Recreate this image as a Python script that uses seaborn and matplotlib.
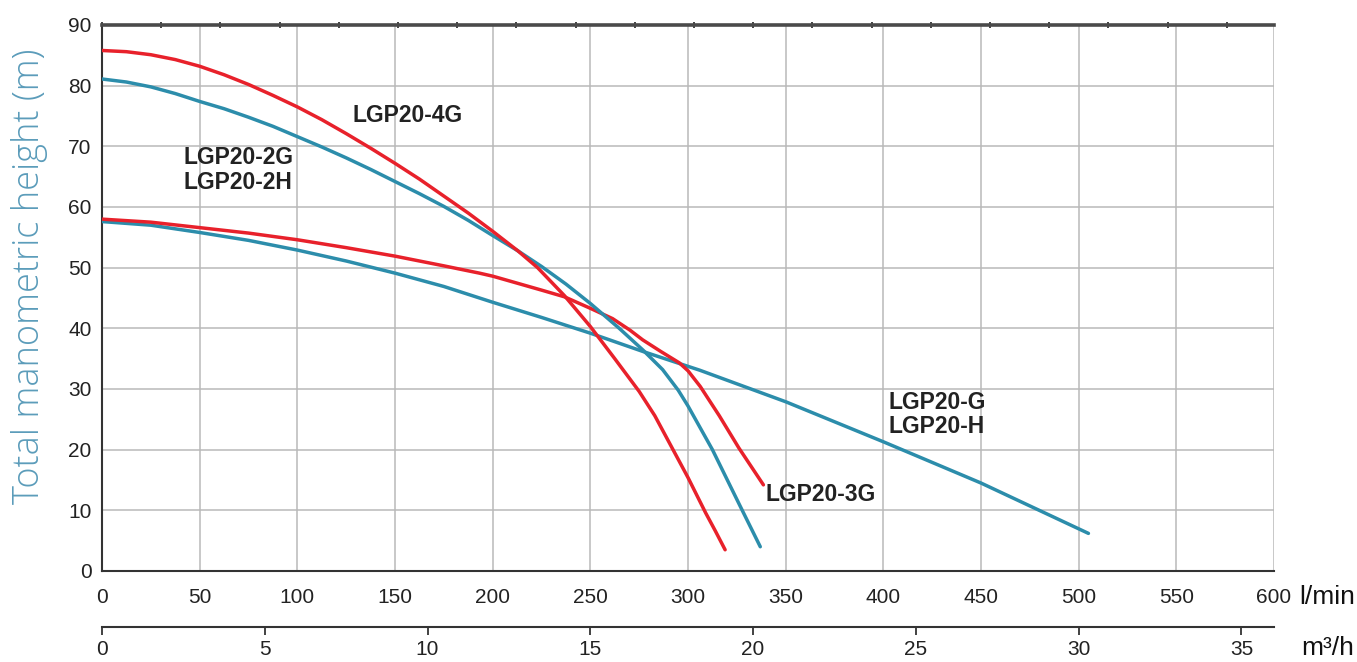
import numpy as np
import pandas as pd
import matplotlib
matplotlib.use("Agg")
import matplotlib.pyplot as plt
import seaborn as sns

# ---- data (flow l/min, head m) ----
q_4g = [0, 12.5, 25, 37.5, 50, 62.5, 75, 87.5, 100, 112.5, 125, 137.5, 150, 162.5, 175,
        187.5, 200, 212.8, 223, 236.7, 250, 262.5, 275, 283, 291, 300, 309, 314, 319]
h_4g = [85.8, 85.6, 85.1, 84.3, 83.2, 81.8, 80.2, 78.4, 76.5, 74.4, 72.1, 69.7, 67.2, 64.6, 61.8,
        59.0, 56.0, 52.8, 50.0, 45.4, 40.3, 35.0, 29.6, 25.6, 20.8, 15.4, 9.6, 6.6, 3.5]

q_2g = [0, 12.5, 25, 37.5, 50, 62.5, 75, 87.5, 100, 112.5, 125, 137.5, 150, 162.5, 175,
        187.5, 200, 212.8, 225, 237.5, 250, 264.8, 277, 287, 295, 300, 312.5, 327, 337]
h_2g = [81.1, 80.6, 79.8, 78.7, 77.4, 76.2, 74.8, 73.3, 71.6, 69.9, 68.1, 66.2, 64.2, 62.2, 60.1,
        57.8, 55.3, 52.8, 50.2, 47.3, 44.1, 40.0, 36.4, 33.2, 29.8, 27.2, 20.0, 10.5, 4.0]

q_3g = [0, 25, 50, 75, 100, 125, 150, 175, 193.2, 200, 225, 236.7, 250, 261.4, 270.3,
        276.8, 286, 295.6, 300, 306.3, 316, 326, 338.6]
h_3g = [58.0, 57.5, 56.6, 55.7, 54.6, 53.3, 51.9, 50.3, 49.1, 48.6, 46.3, 45.2, 43.3, 41.6, 39.7,
        38.1, 36.2, 34.3, 33.0, 30.4, 25.6, 20.3, 14.2]

q_g = [0, 25, 50, 75, 100, 125, 150, 175, 200, 225, 250, 276.8, 295.6, 306, 350, 400, 450, 505]
h_g = [57.6, 57.0, 55.8, 54.5, 52.9, 51.1, 49.1, 46.9, 44.3, 41.8, 39.2, 36.2, 34.2, 33.1,
       27.9, 21.3, 14.5, 6.2]

x_ticks = list(range(0, 601, 50))
y_ticks = list(range(0, 91, 10))
m3h_ticks = [0, 5, 10, 15, 20, 25, 30, 35]
top_ticks_gpm = [i * 20 / 3 for i in range(0, 20)]

labels = [
    ("LGP20-4G", 128, 75.0),
    ("LGP20-2G\nLGP20-2H", 41.5, 66.1),
    ("LGP20-3G", 339.5, 12.6),
    ("LGP20-G\nLGP20-H", 402.5, 25.8),
]

RED = "#e8212b"
BLUE = "#2c8dab"

sns.set_theme(style="white")
plt.rcParams["font.family"] = ["Liberation Sans", "DejaVu Sans"]

fig = plt.figure(figsize=(13.57, 6.62), dpi=100)
ax = fig.add_axes([102 / 1357, 1 - 571 / 662, (1274 - 102) / 1357, (571 - 25) / 662])

series = [(q_g, h_g, BLUE), (q_3g, h_3g, RED), (q_2g, h_2g, BLUE), (q_4g, h_4g, RED)]
for q, h, c in series:
    df = pd.DataFrame({"q": q, "h": h})
    sns.lineplot(data=df, x="q", y="h", color=c, lw=2.5, ax=ax,
                 sort=False, estimator=None, zorder=3)

ax.set_xlim(0, 600)
ax.set_ylim(0, 90)
ax.set_xticks(x_ticks)
ax.set_yticks(y_ticks)
ax.set_xlabel("")
ax.set_ylabel("Total manometric height (m)", family=["Open Sans", "DejaVu Sans"],
              fontsize=26, color="#5b9cba", fontweight="light")
ax.yaxis.set_label_coords(-0.046, 0.54)
ax.grid(True, color="#b9b9b9", lw=1.1, zorder=0)
ax.set_axisbelow(True)

ax.tick_params(axis="both", direction="inout", length=9, width=1.3, colors="#333333",
               labelcolor="#222222")
ax.tick_params(axis="y", labelsize=15, pad=3)
ax.tick_params(axis="x", labelsize=15, pad=8)

for s in ["left", "bottom"]:
    ax.spines[s].set_color("#333333")
    ax.spines[s].set_linewidth(1.5)
ax.spines["right"].set_visible(False)
ax.spines["top"].set_color("#4a4a4a")
ax.spines["top"].set_linewidth(2.6)

# top axis (imperial gpm); its labels fall outside the picture in the reference
top = ax.secondary_xaxis("top", functions=(lambda q: q / 4.546, lambda g: g * 4.546))
top.set_xticks(top_ticks_gpm)
top.set_xticklabels([])
top.tick_params(direction="inout", length=5, width=1.3, colors="#333333")
top.spines["top"].set_visible(False)

# second bottom axis m3/h
sec = ax.secondary_xaxis(-0.1026, functions=(lambda q: q / 16.6667, lambda m: m * 16.6667))
sec.set_xticks(m3h_ticks)
sec.tick_params(direction="out", length=6, width=1.3, colors="#333333",
                labelcolor="#222222", labelsize=15, pad=3)
sec.spines["bottom"].set_color("#333333")
sec.spines["bottom"].set_linewidth(1.5)

for txt, q, h in labels:
    ax.text(q, h, txt, fontsize=16.5, fontweight="bold", color="#222222",
            ha="left", va="center", linespacing=1.1, zorder=4)

fig.text(1299 / 1357, 1 - 597 / 662, "l/min", fontsize=19, color="#111111",
         ha="left", va="center")
fig.text(1301 / 1357, 1 - 648 / 662, "m³/h", fontsize=19, color="#111111",
         ha="left", va="center")

fig.savefig("out.png", dpi=100, facecolor="white")
